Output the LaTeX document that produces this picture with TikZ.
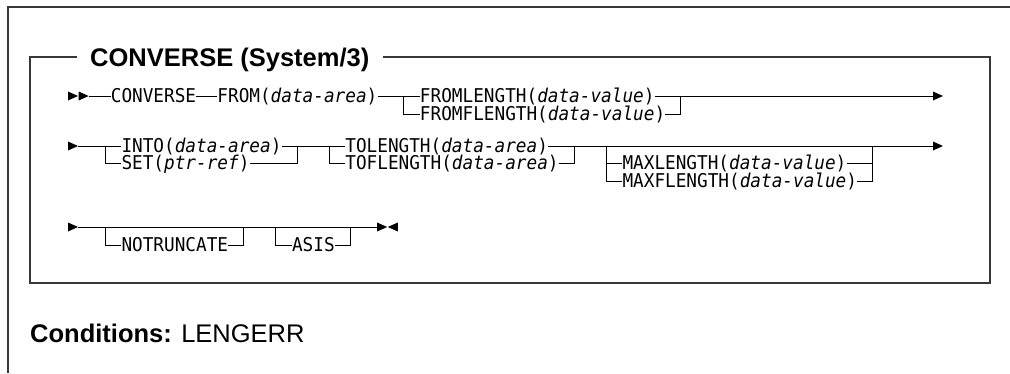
\documentclass[tikz,border=0pt]{standalone}
\usepackage{fontspec}
\setmainfont{Liberation Sans}
\newfontfamily\ibm[FakeStretch=0.932]{DejaVu Sans Mono}
\begin{document}
\begin{tikzpicture}[x=1pt,y=-1pt,
  kw/.style={font=\ibm\fontsize{19}{19}\selectfont, anchor=west, inner sep=0pt, text height=13.9pt, text depth=0pt},
  ln/.style={line width=1pt},
  frame/.style={line width=1.6pt, draw=black!78},
  rarr/.pic={\fill (0,-4.5) -- (10,0) -- (0,4.5) -- cycle;},
  larr/.pic={\fill (10,-4.5) -- (0,0) -- (10,4.5) -- cycle;}]
\useasboundingbox (0,0) rectangle (1010,373);
\def\cw{10.66}
% outer frame
\draw[frame] (8,373) -- (8,7) -- (1010,7);
% inner box with title
\node[font=\bfseries\fontsize{25.5}{25.5}\selectfont, anchor=west, inner xsep=13pt, inner ysep=0pt, text height=18.3pt, text depth=0pt] (title) at (77,57) {CONVERSE (System/3)};
\draw[frame] (title.west) -- (30,57) -- (30,283) -- (990,283) -- (990,57) -- (title.east);
% row 1
\pic at (68,96) {rarr};
\pic at ({68+\cw},96) {rarr};
\coordinate (s1) at ({68+\cw+10},96);
\node[kw] (conv) at ({68+4*\cw},96) {CONVERSE};
\node[kw] (from) at ({68+14*\cw},96) {FROM(\textit{data-area})};
\coordinate (j1a) at ({68+31.5*\cw},96);
\node[kw] (fl) at ({68+33*\cw},96) {FROMLENGTH(\textit{data-value})};
\node[kw] (ffl) at ({68+33*\cw},114) {FROMFLENGTH(\textit{data-value})};
\coordinate (j1b) at ({68+57.5*\cw},96);
\coordinate (e1) at (933,96);
\draw[ln] (s1) -- (conv.west) (conv.east) -- (from.west) (from.east) -- (fl.west) (fl.east) -- (e1);
\draw[ln] (j1a) |- (ffl.west) (ffl.east) -| (j1b);
\pic at (e1) {rarr};
% row 2
\pic at (68,146) {rarr};
\coordinate (s2) at (78,146);
\coordinate (j2a) at ({68+3.5*\cw},146);
\node[kw] (into) at ({68+5*\cw},146) {INTO(\textit{data-area})};
\node[kw] (set) at ({68+5*\cw},163) {SET(\textit{ptr-ref})};
\coordinate (j2b) at ({68+21.5*\cw},146);
\coordinate (j3a) at ({68+24.5*\cw},146);
\node[kw] (tol) at ({68+26*\cw},146) {TOLENGTH(\textit{data-area})};
\node[kw] (tofl) at ({68+26*\cw},163) {TOFLENGTH(\textit{data-area})};
\coordinate (j3b) at ({68+47.5*\cw},146);
\coordinate (j4a) at ({68+50.5*\cw},146);
\node[kw] (maxl) at ({68+52*\cw},163) {MAXLENGTH(\textit{data-value})};
\node[kw] (maxfl) at ({68+52*\cw},181) {MAXFLENGTH(\textit{data-value})};
\coordinate (j4b) at ({68+75.5*\cw},146);
\coordinate (e2) at (933,146);
\draw[ln] (s2) -- (into.west) (into.east) -- (tol.west) (tol.east) -- (e2);
\draw[ln] (j2a) |- (set.west) (set.east) -| (j2b);
\draw[ln] (j3a) |- (tofl.west) (tofl.east) -| (j3b);
\draw[ln] (j4a) |- (maxfl.west) (maxfl.east) -| (j4b);
\draw[ln] (j4a |- maxl.west) -- (maxl.west) (maxl.east) -- (j4b |- maxl.east);
\pic at (e2) {rarr};
% row 3
\pic at (68,227) {rarr};
\coordinate (s3) at (78,227);
\coordinate (j5a) at ({68+3.5*\cw},227);
\node[kw] (nt) at ({68+5*\cw},245) {NOTRUNCATE};
\coordinate (j5b) at ({68+16.5*\cw},227);
\coordinate (j6a) at ({68+19.5*\cw},227);
\node[kw] (asis) at ({68+21*\cw},245) {ASIS};
\coordinate (j6b) at ({68+26.5*\cw},227);
\coordinate (e3) at ({68+29*\cw},227);
\draw[ln] (s3) -- (e3);
\draw[ln] (j5a) |- (nt.west) (nt.east) -| (j5b);
\draw[ln] (j6a) |- (asis.west) (asis.east) -| (j6b);
\pic at (e3) {rarr};
\pic at ({68+29*\cw+10.7},227) {larr};
% conditions
\node[anchor=base west, inner sep=0pt, font=\fontsize{25.5}{25.5}\selectfont] (cond) at (30,342) {\textbf{Conditions:} LENGERR};
\end{tikzpicture}
\end{document}
